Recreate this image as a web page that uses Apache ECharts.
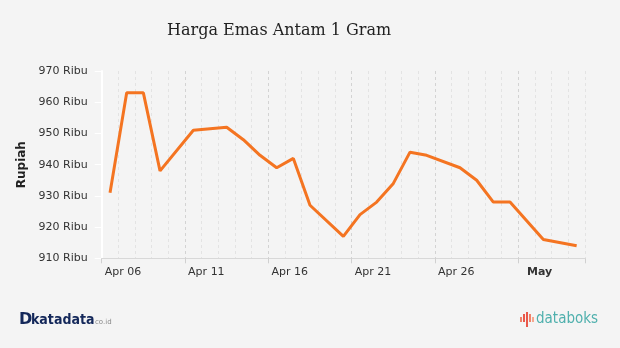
<!DOCTYPE html>
<html>
<head>
<meta charset="utf-8">
<script src="https://cdn.jsdelivr.net/npm/echarts@6/dist/echarts.min.js"></script>
<style>
html,body{margin:0;padding:0;background:#f4f4f4;}
#c{width:620px;height:348px;}
</style>
</head>
<body>
<div id="c"></div>
<script>
var categories = ['Apr 06','Apr 07','Apr 08','Apr 09','Apr 10','Apr 11','Apr 12','Apr 13','Apr 14','Apr 15',
  'Apr 16','Apr 17','Apr 18','Apr 19','Apr 20','Apr 21','Apr 22','Apr 23','Apr 24','Apr 25',
  'Apr 26','Apr 27','Apr 28','Apr 29','Apr 30','May 01','May 02','May 03','May 04'];
var prices = [931, 963, 963, 938, null, 951, null, 952, 948, 943,
  939, 942, 927, null, 917, 924, 928, 934, 944, 943,
  null, 939, 935, 928, 928, null, 916, null, 914];
var tickLabels = ['Apr 06','Apr 11','Apr 16','Apr 21','Apr 26','May'];
var yTicks = [910, 920, 930, 940, 950, 960, 970];

var chart = echarts.init(document.getElementById('c'), null, {renderer:'canvas'});
var gridColors = ['#d3d3d3','#e3e3e3','#e3e3e3','#e3e3e3','#e3e3e3'];
chart.setOption({
  backgroundColor: '#f4f4f4',
  animation: false,
  title: {
    text: 'Harga Emas Antam 1 Gram',
    left: 162, top: 18,
    textStyle: {fontFamily: 'DejaVu Serif', fontSize: 16, fontWeight: 'normal', color: '#222'}
  },
  grid: {left: 101.7, right: 35, top: 71, bottom: 89.7, containLabel: false},
  xAxis: {
    type: 'category',
    data: categories,
    boundaryGap: true,
    axisLine: {show: true, lineStyle: {color: '#d8d8d8', width: 1}},
    axisTick: {show: true, length: 5, interval: function(i){ return i % 5 === 0; }, lineStyle: {color: '#d0d0d0'}},
    splitLine: {show: true, interval: 0, lineStyle: {color: gridColors, type: [3,3], width: 1}},
    axisLabel: {
      interval: function(i){ return i % 5 === 0; },
      margin: 8,
      padding: [0,0,0,26],
      fontFamily: 'DejaVu Sans', fontSize: 11, color: '#333',
      formatter: function(v, i){
        var t = tickLabels[i/5];
        return t === 'May' ? '{b|May}' : t;
      },
      rich: {b: {fontWeight: 'bold', fontFamily: 'DejaVu Sans', fontSize: 11, color: '#333'}}
    }
  },
  yAxis: {
    type: 'value',
    min: yTicks[0], max: yTicks[yTicks.length-1], interval: 10,
    name: 'Rupiah',
    nameLocation: 'middle',
    nameRotate: 90,
    nameGap: 73,
    nameTextStyle: {fontFamily: 'DejaVu Sans', fontSize: 12, fontWeight: 'bold', color: '#222'},
    axisLine: {show: true, lineStyle: {color: '#ffffff', width: 2}},
    axisTick: {show: true, length: 7, lineStyle: {color: '#ffffff', width: 1}},
    splitLine: {show: false},
    axisLabel: {margin: 14, fontFamily: 'DejaVu Sans', fontSize: 11, color: '#333',
      formatter: function(v){ return v + ' Ribu'; }}
  },
  series: [{
    type: 'line',
    data: prices,
    connectNulls: true,
    symbol: 'none',
    lineStyle: {color: '#f47421', width: 3},
    itemStyle: {color: '#f47421'}
  }],
  graphic: [
    {type: 'text', left: 19, top: 312, style: {text: 'D', font: 'bold 16px "DejaVu Sans"', fill: '#14285a'}},
    {type: 'text', left: 31, top: 313, style: {text: 'katadata', font: 'bold 14px "DejaVu Sans Condensed"', fill: '#14285a'}},
    {type: 'text', left: 95, top: 319, style: {text: 'co.id', font: '7px "DejaVu Sans"', fill: '#8a8a8a'}},
    {type: 'rect', shape: {x: 520, y: 317, width: 2, height: 5}, style: {fill: '#f0826a'}},
    {type: 'rect', shape: {x: 523, y: 314, width: 2, height: 8}, style: {fill: '#e9584a'}},
    {type: 'rect', shape: {x: 526, y: 312, width: 2, height: 15}, style: {fill: '#e9584a'}},
    {type: 'rect', shape: {x: 529, y: 314, width: 2, height: 8}, style: {fill: '#f0826a'}},
    {type: 'rect', shape: {x: 532, y: 317, width: 2, height: 5}, style: {fill: '#f5a88f'}},
    {type: 'text', left: 536, top: 312, style: {text: 'databoks', font: '15px "DejaVu Sans Condensed"', fill: '#4fb0ad'}}
  ]
});
</script>
</body>
</html>
